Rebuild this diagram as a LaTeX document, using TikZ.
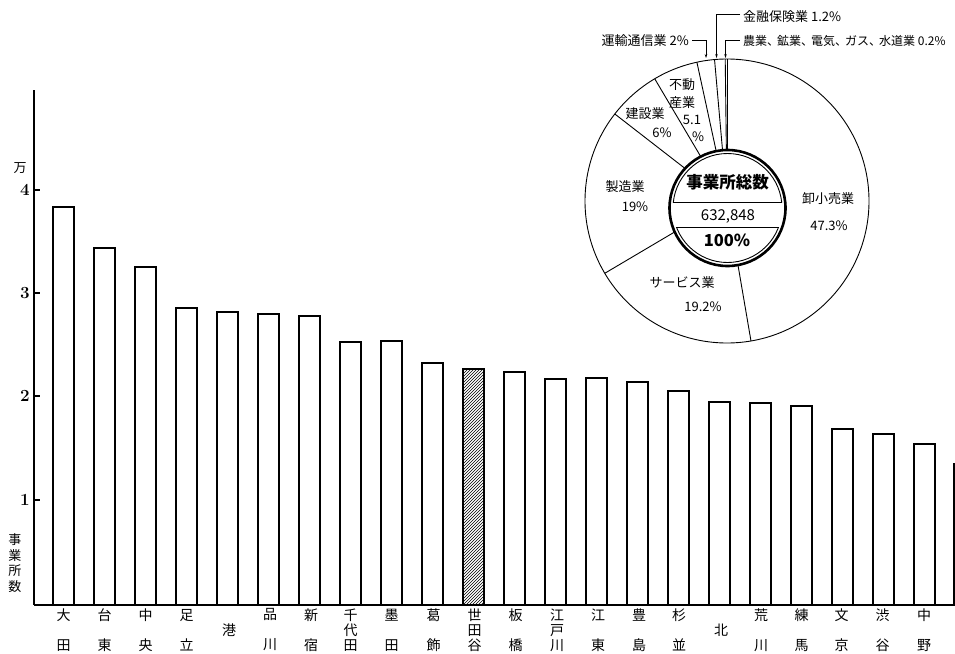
\documentclass[tikz,border=0pt]{standalone}
\usepackage{fontspec}
\newfontfamily\jp{Noto Sans CJK JP}
\usetikzlibrary{arrows.meta}
\begin{document}
\begin{tikzpicture}[x=1pt,y=-1pt,
  font=\jp\fontsize{13}{13}\selectfont,
  barbox/.style={draw=black,line width=1.3pt,fill=white},
  axisline/.style={line width=1.2pt},
  lab/.style={inner sep=0pt,align=center,font=\jp\fontsize{14}{15}\selectfont},
  plab/.style={inner sep=0pt,font=\jp\fontsize{13}{13}\selectfont},
  ylab/.style={inner sep=0pt,font=\bfseries\fontsize{17}{17}\selectfont},
  lead/.style={line width=0.8pt,-{Stealth[length=4pt,width=2.6pt]}},
  sect/.style={line width=0.9pt}]
\useasboundingbox (0,0) rectangle (955,653);
% axes
\draw[axisline] (34,90) -- (34,605);
\draw[axisline] (34,605) -- (955,605);
\foreach \yy/\v in {190/4,293/3,396/2,500/1}{
  \draw[axisline] (34,\yy) -- (40,\yy);
  \node[ylab] (y\v) at (25,\yy) {\v};
}
\node[plab] (man) at (20,168) {万};
\node[lab,font=\jp\fontsize{13}{15.5}\selectfont] (ytitle) at (15,563) {事\\業\\所\\数};
% bars
\foreach \t [count=\i from 0] in {207,248,267,308,312,314,316,342,341,363,369,372,379,378,382,391,402,403,406,429,434,444}{
  \draw[barbox] ({53+41*\i},605) rectangle ({74+41*\i},\t);
}
% hatched bar (Setagaya)
\begin{scope}
  \clip (463,369) rectangle (484,605);
  \foreach \k in {0,3,...,270}{
    \draw[line width=0.6pt] (463,{605-\k+30}) -- ++(30,-30);
  }
\end{scope}
\draw[barbox,fill=none] (463,605) rectangle (484,369);
\draw[line width=1.3pt] (954,463) -- (954,605);
% district labels
\node[lab] (d1) at (63.5,630) {大\\[15pt]田};
\node[lab] (d2) at (104.5,630) {台\\[15pt]東};
\node[lab] (d3) at (145.5,630) {中\\[15pt]央};
\node[lab] (d4) at (186.5,630) {足\\[15pt]立};
\node[lab] (d5) at (229,630) {港};
\node[lab] (d6) at (270,630) {品\\[15pt]川};
\node[lab] (d7) at (311,630) {新\\[15pt]宿};
\node[lab] (d8) at (350.5,630) {千\\代\\田};
\node[lab] (d9) at (391.5,630) {墨\\[15pt]田};
\node[lab] (d10) at (433.5,630) {葛\\[15pt]飾};
\node[lab] (d11) at (474.5,630) {世\\田\\谷};
\node[lab] (d12) at (515.5,630) {板\\[15pt]橋};
\node[lab] (d13) at (557,630) {江\\戸\\川};
\node[lab] (d14) at (598,630) {江\\[15pt]東};
\node[lab] (d15) at (639,630) {豊\\[15pt]島};
\node[lab] (d16) at (679,630) {杉\\[15pt]並};
\node[lab] (d17) at (721,630) {北};
\node[lab] (d18) at (761,630) {荒\\[15pt]川};
\node[lab] (d19) at (801.5,630) {練\\[15pt]馬};
\node[lab] (d20) at (841.5,630) {文\\[15pt]京};
\node[lab] (d21) at (882.5,630) {渋\\[15pt]谷};
\node[lab] (d22) at (924,630) {中\\[15pt]野};
% pie
\coordinate (pc) at (727,201);
\draw[sect] (pc) circle [radius=142];
\foreach \a in {90,90.72,95.04,102.24,120.6,142.2,210.6,279.72}{
  \draw[sect] (pc) -- ++({-\a}:142);
}
\filldraw[fill=white,line width=2.6pt] (727.5,208) circle [radius=58];
\begin{scope}
  \clip (600,100) rectangle (850,202);
  \draw[line width=0.9pt] (727.5,208) circle [radius=54.5];
\end{scope}
\begin{scope}
  \clip (600,227) rectangle (850,300);
  \draw[line width=0.9pt] (727.5,208) circle [radius=54.5];
\end{scope}
\draw[line width=0.9pt] (673.3,202) -- (781.7,202);
\draw[line width=0.9pt] (676.4,227) -- (778.6,227);
\node[inner sep=0pt,font=\jp\bfseries\fontsize{16.5}{16.5}\selectfont] (tot) at (727.5,182) {事業所総数};
\node[inner sep=0pt,font=\jp\fontsize{15}{15}\selectfont] (num) at (728,216) {632,848};
\node[inner sep=0pt,font=\jp\bfseries\fontsize{16.5}{16.5}\selectfont] (pct) at (727,240) {100\%};
% sector labels
\node[plab] (s1) at (828,199) {卸小売業};
\node[plab] (s1p) at (829,226) {47.3\%};
\node[plab] (s2) at (682,283) {サービス業};
\node[plab] (s2p) at (703,307) {19.2\%};
\node[plab] (s3) at (625,187) {製造業};
\node[plab] (s3p) at (635,207) {19\%};
\node[plab] (s4) at (645,114) {建設業};
\node[plab] (s4p) at (662,133) {6\%};
\node[plab] (s5a) at (682,85) {不動};
\node[plab] (s5b) at (682,103) {産業};
\node[plab] (s5c) at (692,120) {5.1};
\node[plab] (s5d) at (698,137) {\%};
% outside labels with leaders
\node[plab,anchor=east] (unyu) at (689,41) {運輸通信業 2\%};
\node[plab,anchor=west] (kin) at (743,17) {金融保険業 1.2\%};
\node[plab,anchor=west,font=\jp\fontsize{12}{12}\selectfont] (nou) at (743,41) {農業、\kern-2pt 鉱業、\kern-2pt 電気、\kern-2pt ガス、\kern-2pt 水道業 0.2\%};
\coordinate (c1) at (706,58);
\coordinate (c2) at (716.5,58);
\coordinate (c3) at (725.5,58);
\draw[lead] ([xshift=3pt,yshift=1pt]unyu.east) -| (c1);
\draw[lead] ([xshift=-3pt,yshift=3pt]kin.west) -| (c2);
\draw[lead] ([xshift=-3pt,yshift=1pt]nou.west) -| (c3);
\end{tikzpicture}
\end{document}
